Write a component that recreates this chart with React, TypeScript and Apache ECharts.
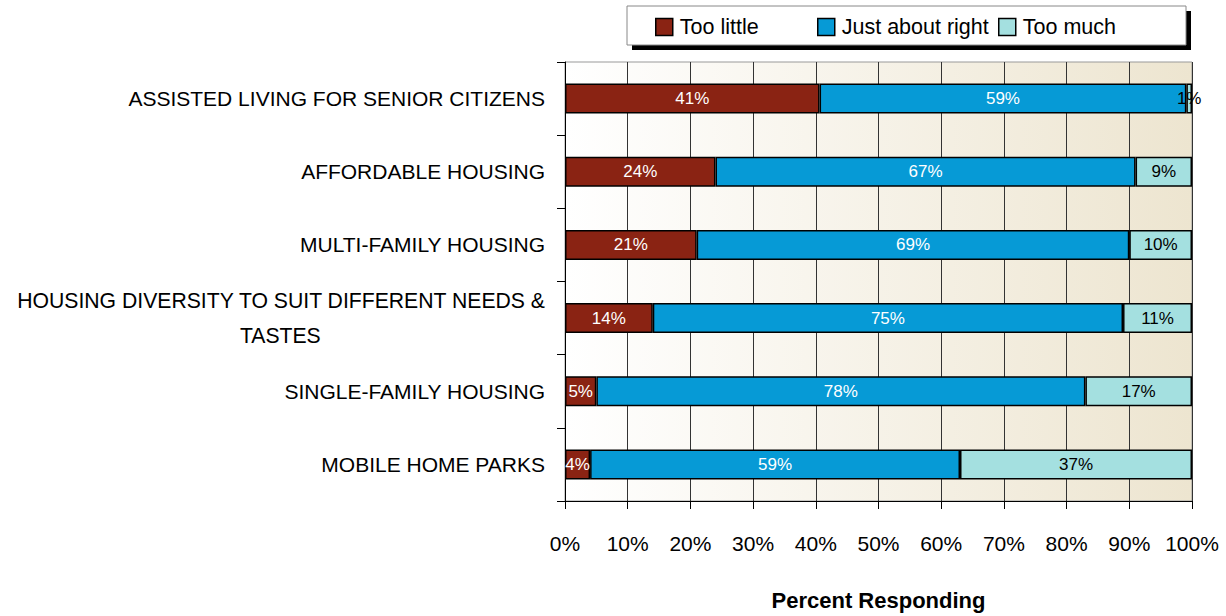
import React, { useEffect, useRef } from "react";
import * as echarts from "echarts";

const categories = [
  "ASSISTED LIVING FOR SENIOR CITIZENS",
  "AFFORDABLE HOUSING",
  "MULTI-FAMILY HOUSING",
  "HOUSING DIVERSITY TO SUIT DIFFERENT NEEDS &\nTASTES",
  "SINGLE-FAMILY HOUSING",
  "MOBILE HOME PARKS",
];
const seriesNames = ["Too little", "Just about right", "Too much"];
const tooLittle = [40.6, 24, 21, 14, 5, 4];
const justRight = [58.5, 67, 69, 75, 78, 59];
const tooMuch = [0.9, 9, 10, 11, 17, 37];
const xAxisTicks = [0, 10, 20, 30, 40, 50, 60, 70, 80, 90, 100];
const xAxisTitle = "Percent Responding";

const colors = ["#8a2313", "#069ad6", "#a4e0e0"];
const labelColors = ["#ffffff", "#ffffff", "#000000"];
const FONT = "'Liberation Sans', Arial, sans-serif";

export default function App() {
  const ref = useRef<HTMLDivElement>(null);
  useEffect(() => {
    if (!ref.current) return;
    const chart = echarts.init(ref.current, undefined, { renderer: "svg" });
    const values = [tooLittle, justRight, tooMuch];
    const legendLefts = [655, 817, 998];
    const option: any = {
      animation: false,
      textStyle: { fontFamily: FONT },
      graphic: [
        { type: "rect", z: 1, shape: { x: 632, y: 11, width: 559, height: 39 }, style: { fill: "#000" } },
        { type: "rect", z: 2, shape: { x: 627, y: 6, width: 559, height: 39 }, style: { fill: "#fff", stroke: "#888", lineWidth: 1 } },
      ],
      legend: seriesNames.map((n, i) => ({
        data: [n],
        left: legendLefts[i],
        top: 16,
        padding: 0,
        z: 10,
        icon: "rect",
        itemWidth: 17,
        itemHeight: 17,
        itemGap: 7,
        selectedMode: false,
        itemStyle: { borderColor: "#000", borderWidth: 1.5 },
        textStyle: { fontFamily: FONT, fontSize: 21.5, color: "#000", padding: [0, 0, 0, 2] },
      })),
      grid: {
        left: 565,
        right: 34,
        top: 62,
        height: 440,
        show: true,
        borderColor: "#999",
        borderWidth: 1,
        backgroundColor: new echarts.graphic.LinearGradient(0, 0, 1, 0, [
          { offset: 0, color: "#ffffff" },
          { offset: 1, color: "#ede5d0" },
        ]),
      },
      xAxis: {
        type: "value",
        min: 0,
        max: 100,
        interval: 10,
        name: xAxisTitle,
        nameLocation: "middle",
        nameGap: 88,
        nameTextStyle: { fontFamily: FONT, fontSize: 22, fontWeight: "bold", color: "#000" },
        axisLine: { show: true, lineStyle: { color: "#000", width: 1 } },
        axisTick: { show: true, length: 8, lineStyle: { color: "#000" } },
        axisLabel: {
          margin: 32,
          fontFamily: FONT,
          fontSize: 21,
          color: "#000",
          formatter: (v: number) => (xAxisTicks.includes(v) ? v + "%" : ""),
        },
        splitLine: { show: true, lineStyle: { color: "#333", width: 1 } },
      },
      yAxis: {
        type: "category",
        inverse: true,
        data: categories,
        axisLine: { show: true, lineStyle: { color: "#000", width: 1 } },
        axisTick: { show: true, length: 8, lineStyle: { color: "#000" } },
        axisLabel: {
          margin: 20,
          fontFamily: FONT,
          fontSize: 21,
          color: "#000",
          lineHeight: 35,
          formatter: (v: string) =>
            v.includes("\n")
              ? v
                  .split("\n")
                  .map((l, i) => `{${i === 0 ? "a" : "b"}|${l}}`)
                  .join("\n")
              : v,
          rich: {
            a: { fontFamily: FONT, fontSize: 21.2, lineHeight: 35, color: "#000", align: "right" },
            b: { fontFamily: FONT, fontSize: 21.2, lineHeight: 35, color: "#000", align: "center" },
          },
        },
      },
      series: seriesNames.map((n, i) => ({
        name: n,
        type: "bar",
        stack: "total",
        barWidth: 30,
        data: values[i],
        itemStyle: { color: colors[i], borderColor: "#000", borderWidth: 1.5 },
        label: {
          show: true,
          position: "inside",
          fontFamily: FONT,
          fontSize: 17,
          color: labelColors[i],
          formatter: (p: any) => Math.round(p.value) + "%",
        },
      })),
    };
    chart.setOption(option);
    return () => chart.dispose();
  }, []);
  return <div ref={ref} style={{ width: 1226, height: 616, position: "absolute", left: 0, top: 0 }} />;
}
